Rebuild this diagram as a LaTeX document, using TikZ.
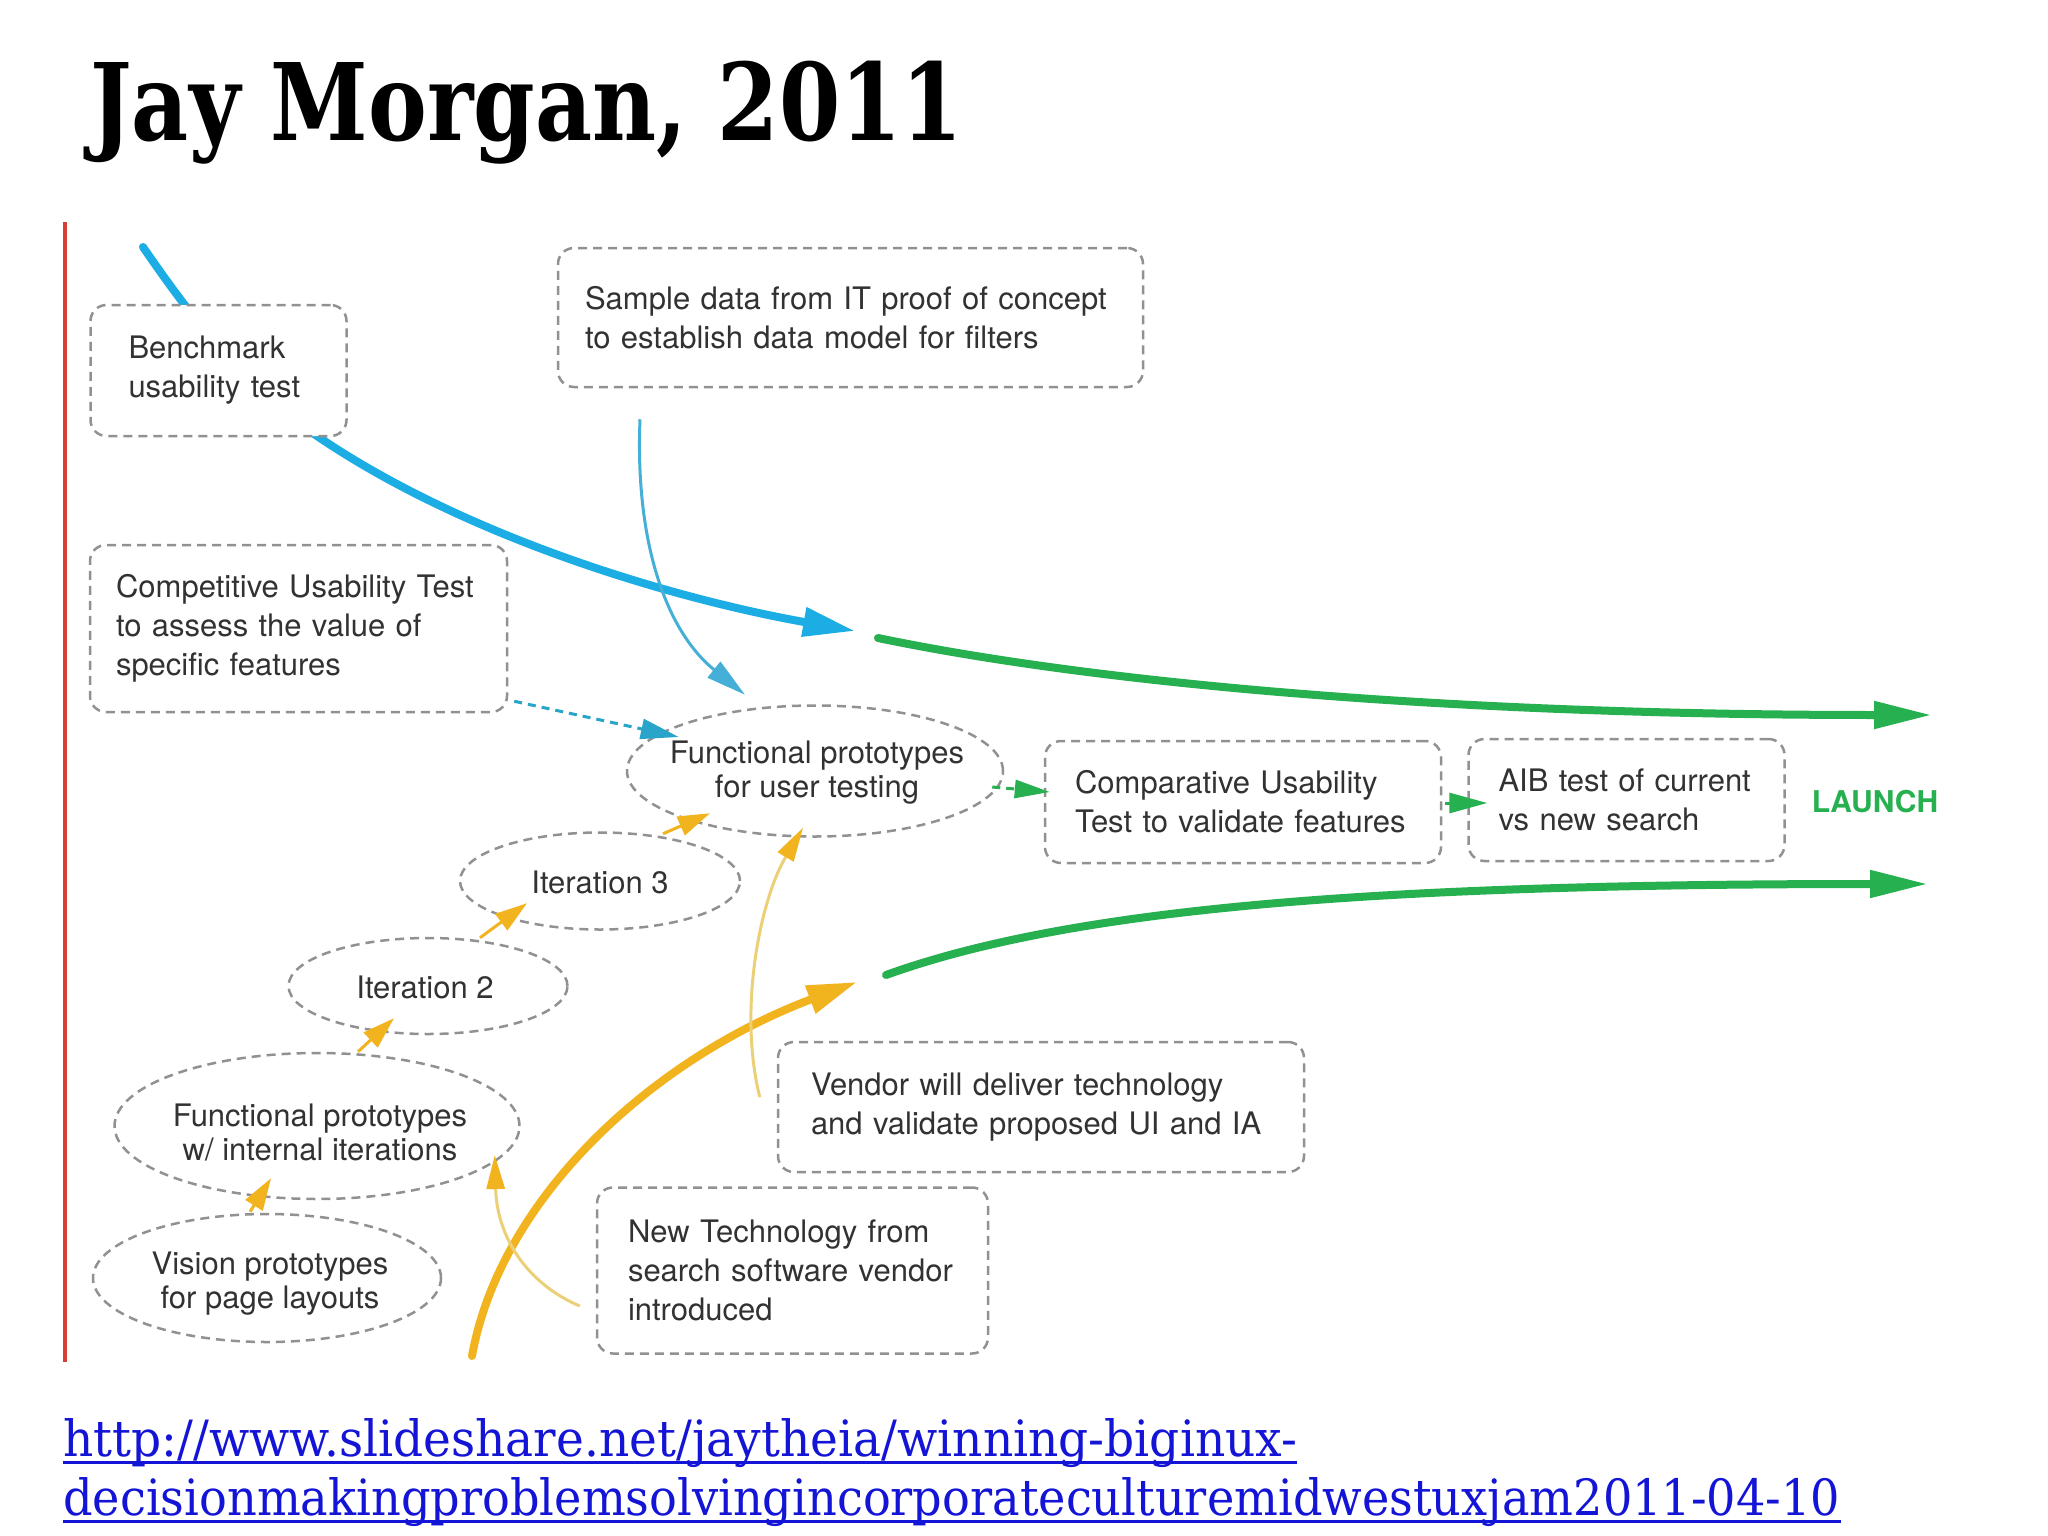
\documentclass[tikz,border=0pt]{standalone}
\usepackage{fontspec}
\usepackage{graphicx}
\setmainfont{TeX Gyre Heros}
\newfontfamily\slabfont{DejaVu Serif}
\usetikzlibrary{arrows.meta,shapes.geometric,calc}
\pgfdeclarelayer{background}
\pgfsetlayers{background,main}
\definecolor{bluethick}{RGB}{27,173,228}
\definecolor{bluethin}{RGB}{70,175,215}
\definecolor{bluedash}{RGB}{40,165,200}
\definecolor{greenl}{RGB}{38,176,80}
\definecolor{orangel}{RGB}{242,180,30}
\definecolor{paley}{RGB}{236,208,120}
\definecolor{grayd}{RGB}{145,145,145}
\definecolor{txt}{RGB}{50,50,50}
\definecolor{redl}{RGB}{214,64,50}
\definecolor{urlblue}{RGB}{20,20,215}
\tikzset{
  dbox/.style={draw=grayd, line width=2.5pt, dash pattern=on 9pt off 6pt, rounded corners=16pt, fill=white, text=txt, align=left, font=\fontsize{31}{39}\selectfont, inner ysep=0pt},
  dell/.style={ellipse, draw=grayd, line width=2.5pt, dash pattern=on 9pt off 6pt, fill=white, inner sep=0pt},
  etext/.style={text=txt, align=center, font=\fontsize{31}{34}\selectfont, inner sep=0pt},
  thickblue/.style={line width=8pt, draw=bluethick, line cap=round, -{Triangle[length=52pt,width=28pt]}},
  thickgreen/.style={line width=8pt, draw=greenl, line cap=round, -{Triangle[length=58pt,width=26pt]}},
  thickorange/.style={line width=8pt, draw=orangel, line cap=round, -{Triangle[length=50pt,width=28pt]}},
  thinblue/.style={line width=3pt, draw=bluethin, -{Triangle[length=40pt,width=20pt]}},
  dashblue/.style={line width=3pt, draw=bluedash, dash pattern=on 8pt off 6pt, -{Triangle[length=38pt,width=20pt]}},
  dashgreen/.style={line width=3pt, draw=greenl, dash pattern=on 8pt off 6pt, -{Triangle[length=35pt,width=18pt]}},
  solidgreen/.style={line width=3pt, draw=greenl, -{Triangle[length=38pt,width=20pt]}},
  stuby/.style={line width=3pt, draw=orangel, -{Triangle[length=32pt,width=20pt]}},
  thiny/.style={line width=3pt, draw=paley, -{Triangle[length=34pt,width=18pt,color=orangel]}},
  urltext/.style={anchor=base west, inner sep=0pt, text=urlblue, font=\slabfont\fontsize{50}{50}\selectfont}
}
\begin{document}
\begin{tikzpicture}[x=1pt,y=-1pt]
\useasboundingbox (0,0) rectangle (2048,1536);
\begin{pgfonlayer}{background}
  \fill[white] (0,0) rectangle (2048,1536);
\end{pgfonlayer}

% title
\node[anchor=base west, inner sep=0pt, font=\slabfont\bfseries\fontsize{107}{107}\selectfont] (title) at (90,141) {\resizebox{873pt}{\height}{Jay Morgan, 2011}};

% red time line
\draw[redl, line width=4pt] (65,222) -- (65,1362);

% boxes
\node[dbox, text width=180pt, inner xsep=38pt, minimum height=131pt] (bench) at (218.5,370.5) {Benchmark\\usability test};
\node[dbox, text width=531pt, inner xsep=27pt, minimum height=139pt] (sample) at (850.5,317.5) {Sample data from IT proof of concept\\to establish data model for filters};
\node[dbox, text width=365pt, inner xsep=26pt, minimum height=167pt] (comp) at (298.5,628.5) {Competitive Usability Test\\to assess the value of\\specific features};
\node[dbox, text width=336pt, inner xsep=30pt, minimum height=122pt] (compar) at (1243,802) {Comparative Usability\\Test to validate features};
\node[dbox, text width=256pt, inner xsep=30pt, minimum height=122pt] (aib) at (1626.5,800) {AIB test of current\\vs new search};
\node[dbox, text width=460pt, inner xsep=33pt, minimum height=130pt] (vendor) at (1041,1107) {Vendor will deliver technology\\and validate proposed UI and IA};
\node[dbox, text width=329pt, inner xsep=31pt, minimum height=166pt] (newtech) at (792.5,1270.5) {New Technology from\\search software vendor\\introduced};

% ellipses
\node[dell, minimum width=376pt, minimum height=131pt] (fput) at (815,771) {};
\node[etext] (fputT) at (817,773) {Functional prototypes\\for user testing};
\node[dell, minimum width=280pt, minimum height=97pt] (it3) at (600,881) {};
\node[etext] (it3T) at (600,882) {Iteration 3};
\node[dell, minimum width=279pt, minimum height=96pt] (it2) at (428,986) {};
\node[etext] (it2T) at (425,987) {Iteration 2};
\node[dell, minimum width=405pt, minimum height=146pt] (fpint) at (317,1126) {};
\node[etext] (fpintT) at (320,1132) {Functional prototypes\\w/ internal iterations};
\node[dell, minimum width=348pt, minimum height=128pt] (vision) at (267,1278) {};
\node[etext] (visionT) at (270,1284) {Vision prototypes\\for page layouts};

% launch
\node[inner sep=0pt, text=greenl, font=\bfseries\fontsize{30}{30}\selectfont] (launch) at (1875,802) {LAUNCH};

% free ends of the big flows
\coordinate (bS) at (143,247);
\coordinate (bM) at (317,436);
\coordinate (bE) at (855,631);
\coordinate (gtS) at (878,638);
\coordinate (gtE) at (1932,715);
\coordinate (gbS) at (886,975);
\coordinate (gbE) at (1928,884);
\coordinate (oS) at (472,1356);
\coordinate (oE) at (857,982);

\begin{pgfonlayer}{background}
  \draw[thickblue] (bS) .. controls (200,330) and (250,390) .. (bM) .. controls (470,540) and (680,600) .. (bE);
\end{pgfonlayer}
\draw[thickgreen] (gtS) .. controls (1100,684) and (1450,715) .. (gtE);
\draw[thickgreen] (gbS) .. controls (1080,905) and (1400,884) .. (gbE);
\draw[thickorange] (oS) .. controls (500,1200) and (650,1060) .. (oE);

% connectors
\draw[thinblue] ($(sample.south)+(-210.5,31)$) .. controls (635,540) and (665,630) .. ($(fput.north)+(-70,-9.5)$);
\draw[dashblue] ($(comp.south east)+(6,-12)$) -- ($(fput.west)+(53,-34)$);
\draw[dashgreen] ($(fput.east)+(-12,16)$) -- ($(compar.west)+(6,-10)$);
\draw[solidgreen] ($(compar.east)+(3,1)$) -- ($(aib.west)+(20,3)$);

\draw[stuby] ($(vision.north)+(-17,-1)$) -- ($(fpint.south)+(-46,-22)$);
\draw[stuby] ($(fpint.north)+(41,0)$) -- ($(it2.south)+(-34,-17)$);
\draw[stuby] ($(it2.north)+(52,1)$) -- ($(it3.south)+(-73,-27.5)$);
\draw[stuby] ($(it3.north)+(63,2.5)$) -- ($(fput.south)+(-105,-24.5)$);

\draw[thiny] ($(vendor.west)+(-17,-10)$) .. controls (738,1010) and (760,900) .. ($(fput.south)+(-12,-10)$);
\draw[thiny] ($(newtech.west)+(-16,35.5)$) .. controls (530,1285) and (497,1240) .. ($(fpint.east)+(-26,29)$);

% link
\node[urltext] (url1) at (63,1456) {\resizebox{1234pt}{\height}{http://www.slideshare.net/jaytheia/winning-biginux-}};
\node[urltext] (url2) at (63,1515) {\resizebox{1777pt}{\height}{decisionmakingproblemsolvingincorporateculturemidwestuxjam2011-04-10}};
\draw[urlblue, line width=3pt] ($(url1.base west)+(0,6)$) -- ($(url1.base east)+(0,6)$);
\draw[urlblue, line width=3pt] ($(url2.base west)+(0,6)$) -- ($(url2.base east)+(0,6)$);
\end{tikzpicture}
\end{document}
